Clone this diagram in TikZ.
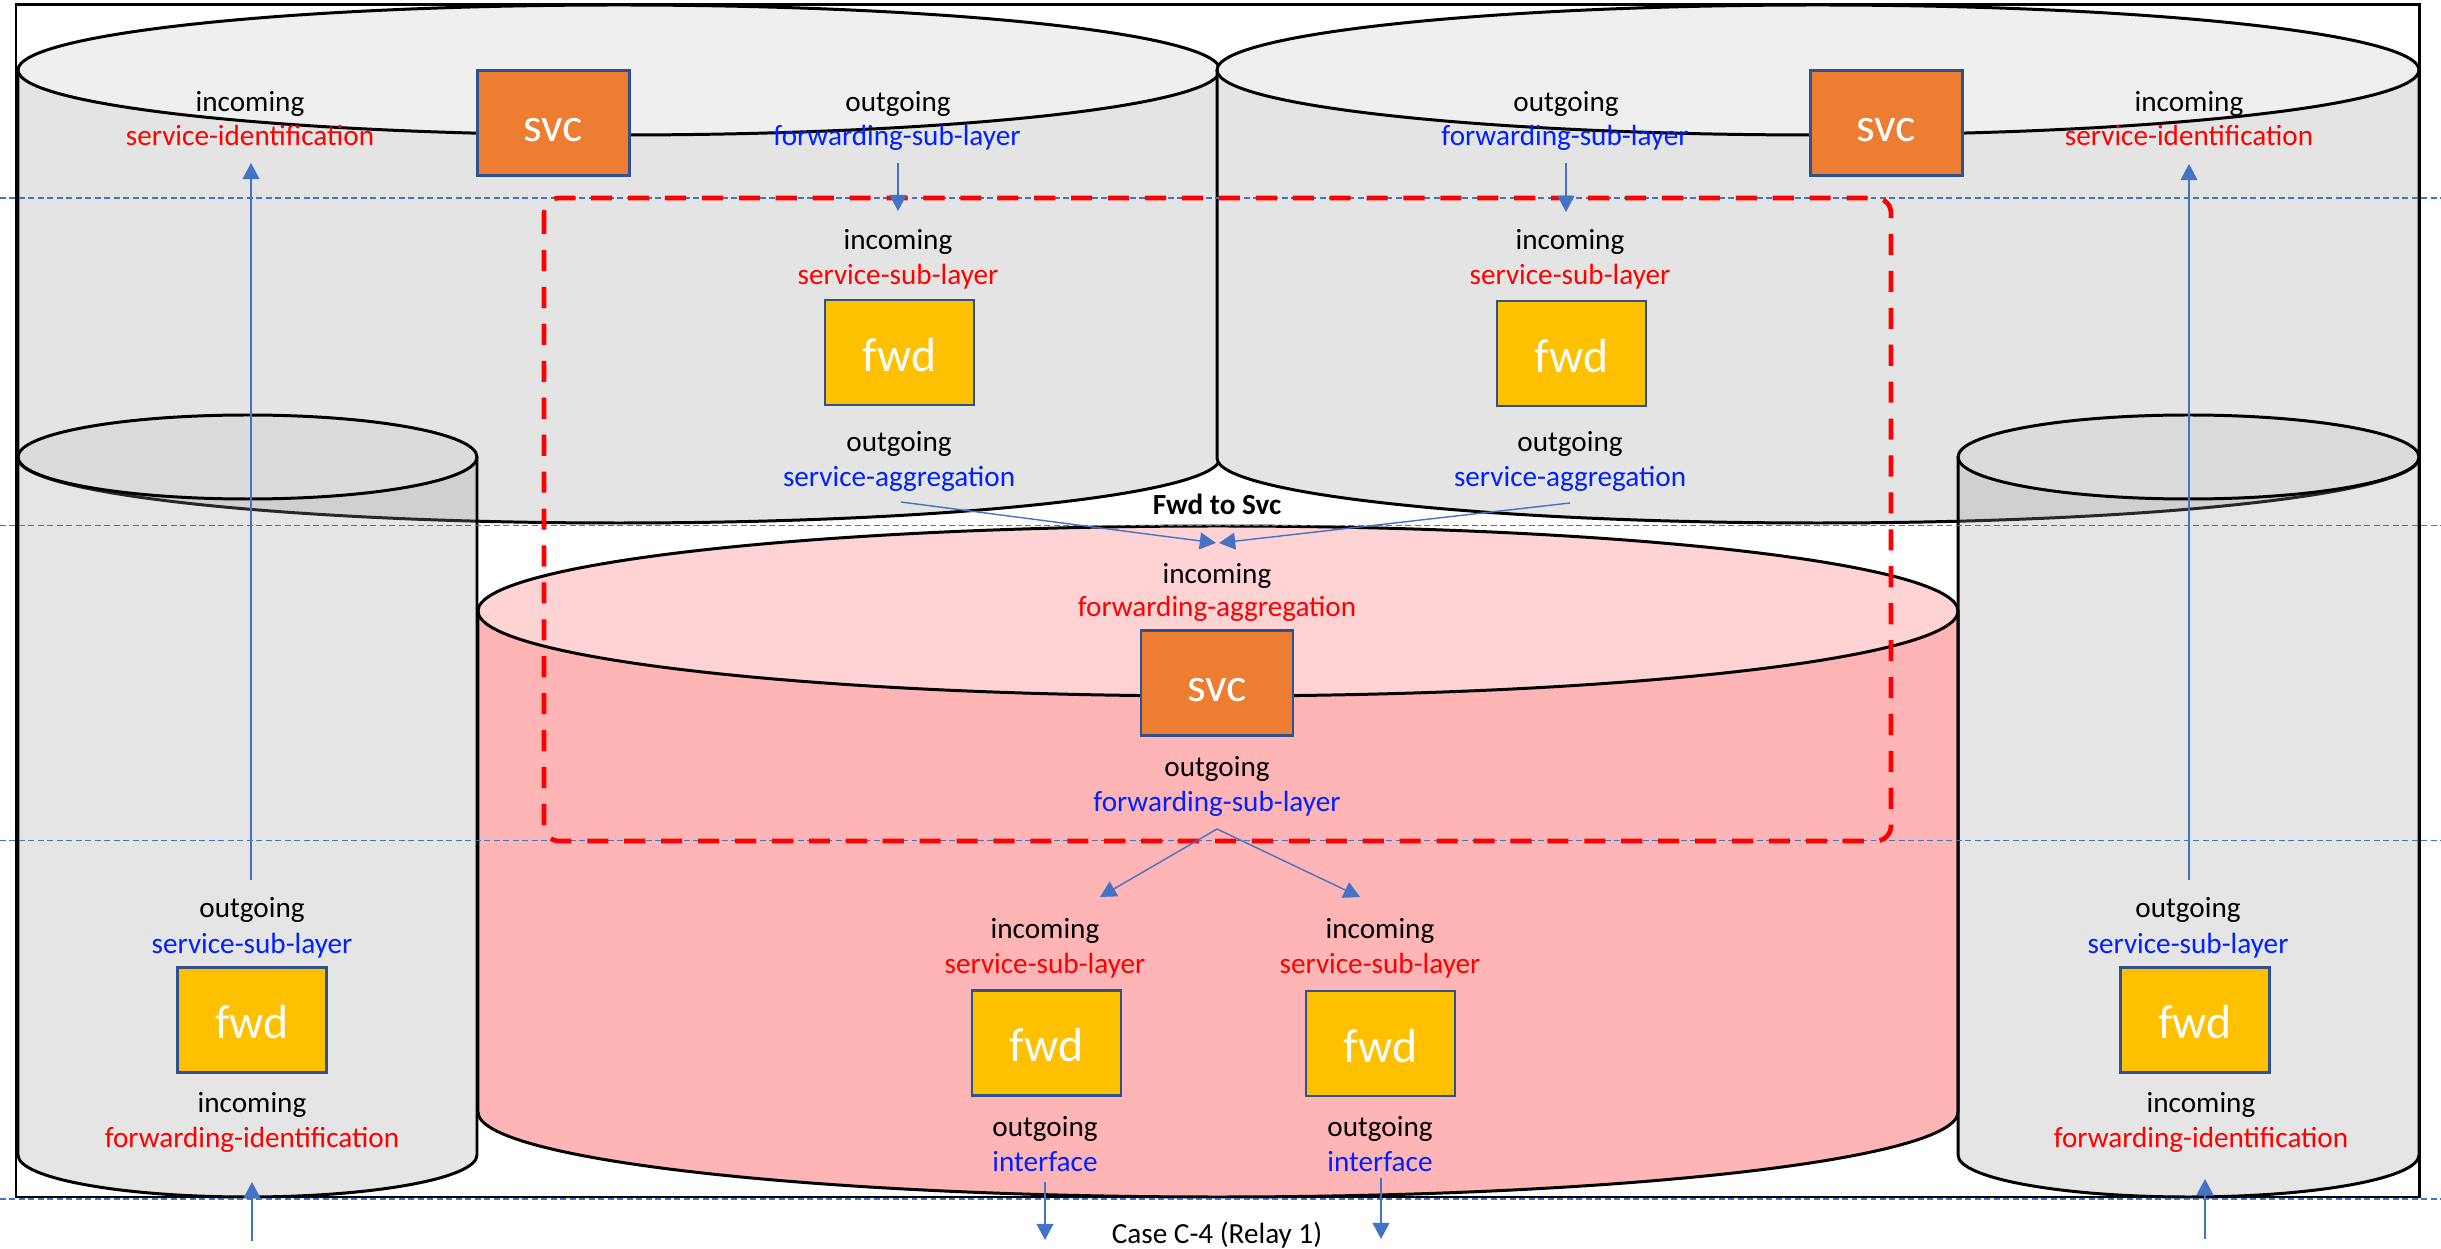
\documentclass[tikz,border=0pt]{standalone}
\usepackage{fontspec}
\setmainfont{Carlito}
\usetikzlibrary{arrows.meta}

\definecolor{cylbody}{RGB}{228,228,228}
\definecolor{cyltop}{RGB}{239,239,239}
\definecolor{smalltop}{RGB}{219,219,219}
\definecolor{pinkbody}{RGB}{255,180,181}
\definecolor{pinktop}{RGB}{255,210,212}
\definecolor{svcfill}{RGB}{237,125,49}
\definecolor{fwdfill}{RGB}{255,192,0}
\definecolor{boxline}{RGB}{47,82,143}
\definecolor{arrowblue}{RGB}{68,114,196}
\definecolor{txtred}{RGB}{255,0,0}
\definecolor{txtblue}{RGB}{0,32,255}

\tikzset{
  cylline/.style={draw=black, line width=0.85pt},
  lbl/.style={font=\fontsize{8.3}{10}\selectfont, inner sep=0pt, anchor=base},
  inred/.style={lbl, text=txtred},
  outblue/.style={lbl, text=txtblue},
  svcbox/.style={draw=boxline, line width=0.77pt, fill=svcfill, text=white,
    minimum width=1.52cm, minimum height=1.05cm, inner sep=0pt,
    text height=10.8pt, text depth=0pt, font=\fontsize{13.6}{16}\selectfont},
  fwdbox/.style={svcbox, fill=fwdfill, minimum width=1.49cm},
  flow/.style={draw=arrowblue, line width=0.4pt, -{Triangle[length=4.6pt,width=4.8pt]}},
  guide/.style={draw=arrowblue, line width=0.45pt, dash pattern=on 1.7pt off 1pt},
  groupbox/.style={draw=red, line width=1.33pt, dash pattern=on 6pt off 4.5pt, rounded corners=4.3pt},
}

% #1 centre x, #2 top centre y, #3 bottom centre y, #4 x radius, #5 y radius,
% #6 side fill style, #7 top fill style
\newcommand\drawcylinder[7]{%
  \path[#6] (#1-#4,#2) -- (#1-#4,#3)
    arc[start angle=180, end angle=0, x radius=#4, y radius=#5] -- (#1+#4,#2) -- cycle;
  \path[#7] (#1,#2) ellipse[x radius=#4, y radius=#5];
  \draw[cylline] (#1-#4,#2) -- (#1-#4,#3)
    arc[start angle=180, end angle=0, x radius=#4, y radius=#5] -- (#1+#4,#2);
  \draw[cylline] (#1,#2) ellipse[x radius=#4, y radius=#5];
}

\begin{document}
\begin{tikzpicture}[x=0.01cm, y=-0.01cm]
\useasboundingbox (0,0) rectangle (2441,1249);

% service cylinders (upper) and the forwarding cylinder between them
\drawcylinder{619}{70}{458}{601}{65}{fill=cylbody}{fill=cyltop}
\drawcylinder{1818}{70}{458}{601}{65}{fill=cylbody}{fill=cyltop}
\drawcylinder{1218}{611}{1112}{740}{85}{fill=pinkbody}{fill=pinktop}

% narrow end cylinders
\drawcylinder{247.5}{457}{1155}{229.5}{42}{fill=black!40, fill opacity=0.26}{fill=smalltop}
\drawcylinder{2188.5}{457}{1155}{230.5}{42}{fill=black!40, fill opacity=0.26}{fill=smalltop}

% outer frame
\draw[line width=0.85pt] (16,5) rectangle (2419,1197);

% layer guides
\foreach \gy in {198,525.7,840.6,1199}
  \draw[guide] (0,\gy) -- (2441,\gy);

% service/forwarding boundary
\draw[groupbox] (544,198) rectangle (1891,841);

% processing blocks
\node[svcbox] (svcL) at (553.5,123) {svc};
\node[svcbox] (svcR) at (1886.5,123) {svc};
\node[svcbox] (svcC) at (1217,683) {svc};
\node[fwdbox] (fwdTL) at (899.5,352.5) {fwd};
\node[fwdbox] (fwdTR) at (1571.5,353.5) {fwd};
\node[fwdbox] (fwdSL) at (252,1020) {fwd};
\node[fwdbox] (fwdSR) at (2195,1020) {fwd};
\node[fwdbox] (fwdBL) at (1046.5,1043) {fwd};
\node[fwdbox] (fwdBR) at (1380.5,1043.5) {fwd};

% labels: upper left service cylinder
\node[lbl] (tlIn) at (250,111.5) {incoming};
\node[inred] (tlInId) at (250,146) {service-identification};
\node[lbl] (tlOut) at (898,112) {outgoing};
\node[outblue] (tlOutFs) at (897,146) {forwarding-sub-layer};
\node[lbl] (tlIn2) at (898,250) {incoming};
\node[inred] (tlInSs) at (898,285) {service-sub-layer};
\node[lbl] (tlOut2) at (899,452) {outgoing};
\node[outblue] (tlOutSa) at (899,487) {service-aggregation};

% labels: upper right service cylinder
\node[lbl] (trOut) at (1566,111.5) {outgoing};
\node[outblue] (trOutFs) at (1565,145.5) {forwarding-sub-layer};
\node[lbl] (trIn) at (2189,111.5) {incoming};
\node[inred] (trInId) at (2189,145.5) {service-identification};
\node[lbl] (trIn2) at (1570,249.5) {incoming};
\node[inred] (trInSs) at (1570,284.5) {service-sub-layer};
\node[lbl] (trOut2) at (1570,451.5) {outgoing};
\node[outblue] (trOutSa) at (1570,486.5) {service-aggregation};

% labels: forwarding cylinder
\node[lbl, font=\fontsize{8.3}{10}\selectfont\bfseries] (title) at (1217,515) {Fwd to Svc};
\node[lbl] (cIn) at (1217,584) {incoming};
\node[inred] (cInFa) at (1217,617) {forwarding-aggregation};
\node[lbl] (cOut) at (1217,777) {outgoing};
\node[outblue] (cOutFs) at (1217,812) {forwarding-sub-layer};
\node[lbl] (blIn) at (1045,939) {incoming};
\node[inred] (blInSs) at (1045,974) {service-sub-layer};
\node[lbl] (blOut) at (1045,1136) {outgoing};
\node[outblue] (blOutIf) at (1045,1171) {interface};
\node[lbl] (brIn) at (1380,939) {incoming};
\node[inred] (brInSs) at (1380,974) {service-sub-layer};
\node[lbl] (brOut) at (1380,1136) {outgoing};
\node[outblue] (brOutIf) at (1380,1171) {interface};

% labels: narrow end cylinders
\node[lbl] (slOut) at (252,918) {outgoing};
\node[outblue] (slOutSs) at (252,954) {service-sub-layer};
\node[lbl] (slIn) at (252,1113) {incoming};
\node[inred] (slInFi) at (252,1147) {forwarding-identification};
\node[lbl] (srOut) at (2188,918) {outgoing};
\node[outblue] (srOutSs) at (2188,954) {service-sub-layer};
\node[lbl] (srIn) at (2201,1113) {incoming};
\node[inred] (srInFi) at (2201,1147) {forwarding-identification};

\node[lbl] (caption) at (1217,1243) {Case C-4 (Relay 1)};

% flow end points
\coordinate (aL0) at (251,880);   \coordinate (aL1) at (251,163);
\coordinate (aR0) at (2189,880);  \coordinate (aR1) at (2189,164);
\coordinate (tL0) at (898,163);   \coordinate (tL1) at (898,211);
\coordinate (tR0) at (1566,163);  \coordinate (tR1) at (1566,212);
\coordinate (sa0) at (901,502);   \coordinate (sa1) at (1216,543);
\coordinate (sb0) at (1570,503);  \coordinate (sb1) at (1219,543);
\coordinate (fs0) at (1217,829);  \coordinate (fs1) at (1100,897);
\coordinate (fs2) at (1360,897);
\coordinate (inL0) at (252,1241); \coordinate (inL1) at (252,1182);
\coordinate (inR0) at (2205,1239);\coordinate (inR1) at (2205,1179);
\coordinate (ifL0) at (1045,1182);\coordinate (ifL1) at (1045,1240);
\coordinate (ifR0) at (1381,1178);\coordinate (ifR1) at (1381,1239);

% flows
\draw[flow] (aL0) -- (aL1);
\draw[flow] (aR0) -- (aR1);
\draw[flow] (tL0) -- (tL1);
\draw[flow] (tR0) -- (tR1);
\draw[flow] (sa0) -- (sa1);
\draw[flow] (sb0) -- (sb1);
\draw[flow] (fs0) -- (fs1);
\draw[flow] (fs0) -- (fs2);
\draw[flow] (inL0) -- (inL1);
\draw[flow] (inR0) -- (inR1);
\draw[flow] (ifL0) -- (ifL1);
\draw[flow] (ifR0) -- (ifR1);
\end{tikzpicture}
\end{document}
